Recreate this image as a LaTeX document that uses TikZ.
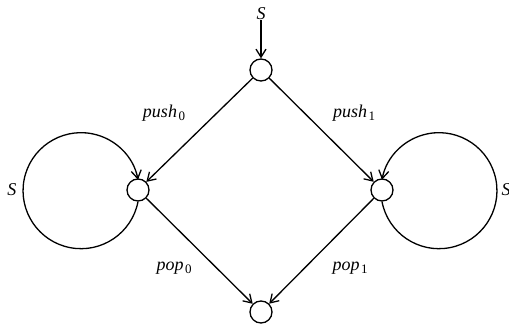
\documentclass[tikz,border=0pt]{standalone}
\usepackage{fontspec}
\setmainfont{Liberation Serif}
\usetikzlibrary{positioning,arrows.meta}

\newcommand{\sublbl}[2]{\textit{#1}\kern1.5pt\raisebox{-3pt}{\fontsize{13}{13}\selectfont #2}}

\begin{document}
\begin{tikzpicture}[x=1pt, y=1pt,
  state/.style={draw, circle, minimum size=22pt, inner sep=0pt, line width=1.3pt},
  trans/.style={-{Straight Barb[length=8pt,width=10pt,line width=1.3pt]}, line width=1.3pt},
  lbl/.style={font=\fontsize{18}{20}\selectfont, inner sep=0pt}
]
  \useasboundingbox (0,0) rectangle (509,332);

  \node[state] (top) at (261,262) {};
  \node[state] (left) at (138,142) {};
  \node[state] (right) at (382,142) {};
  \node[state] (bot) at (261,20) {};

  % start
  \node[lbl, font=\fontsize{18}{20}\selectfont\itshape] (start) at (261,318) {S};
  \draw[trans] (start) -- (top);

  % diamond
  \draw[trans] (top) -- (left);
  \draw[trans] (top) -- (right);
  \draw[trans] (left) -- (bot);
  \draw[trans] (right) -- (bot);

  \node[lbl] (push0) at (164,219) {\sublbl{push}{0}};
  \node[lbl] (push1) at (354,219) {\sublbl{push}{1}};
  \node[lbl] (pop0) at (174,64) {\sublbl{pop}{0}};
  \node[lbl] (pop1) at (350,64) {\sublbl{pop}{1}};

  % loops
  \draw[trans] (left.south) arc[start angle=-10.9, end angle=-349.1, radius=58pt];
  \draw[trans] (right.south) arc[start angle=190.9, end angle=529.1, radius=58pt];
  \node[lbl, font=\fontsize{18}{20}\selectfont\itshape] (sl) at (12,142) {S};
  \node[lbl, font=\fontsize{18}{20}\selectfont\itshape] (sr) at (506,142) {S};
\end{tikzpicture}
\end{document}
